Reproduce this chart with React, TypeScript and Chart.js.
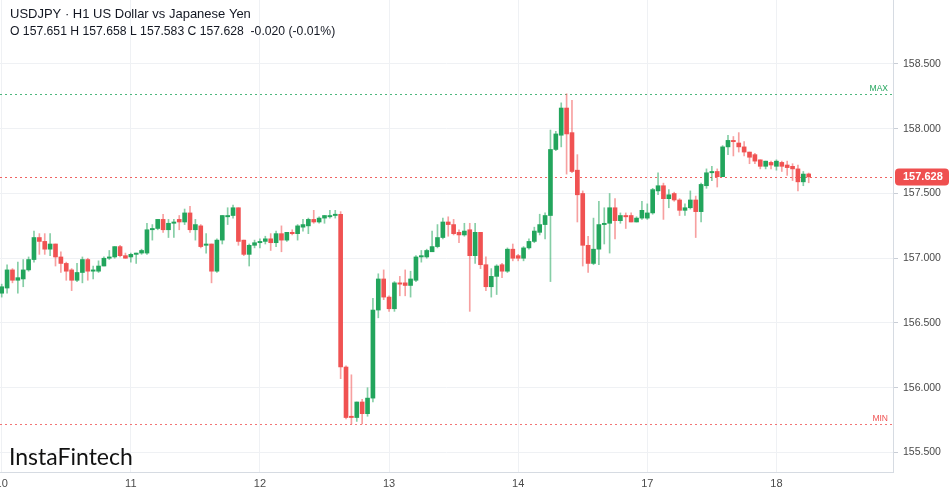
import React, { useEffect, useRef } from 'react';
import { Chart, registerables } from 'chart.js';
Chart.register(...registerables);

const opens = [
  156.73, 156.77, 156.91, 156.83, 156.84, 156.91, 156.99, 157.16, 157.13, 157.07,
  157.11, 157.01, 156.96, 156.91, 156.83, 156.89, 156.99, 156.90, 156.90, 156.94,
  157.00, 157.01, 157.09, 157.02, 157.01, 157.03, 157.04, 157.04, 157.22, 157.23,
  157.30, 157.22, 157.27, 157.30, 157.28, 157.35, 157.22, 157.25, 157.10, 157.11,
  156.90, 157.14, 157.32, 157.33, 157.39, 157.14, 157.03, 157.10, 157.12, 157.13,
  157.15, 157.12, 157.19, 157.14, 157.20, 157.19, 157.24, 157.25, 157.30, 157.28,
  157.31, 157.32, 157.33, 157.34, 156.16, 155.78, 155.77, 155.89, 155.80, 155.92,
  156.60, 156.84, 156.70, 156.61, 156.81, 156.81, 156.79, 156.83, 157.01, 157.01,
  157.05, 157.09, 157.16, 157.28, 157.26, 157.20, 157.18, 157.22, 157.02, 157.20,
  156.95, 156.78, 156.86, 156.95, 156.90, 157.07, 157.02, 157.00, 157.08, 157.13,
  157.20, 157.26, 157.33, 157.84, 157.95, 158.16, 157.97, 157.68, 157.50, 157.10,
  156.96, 157.07, 157.26, 157.27, 157.39, 157.29, 157.33, 157.33, 157.28, 157.31,
  157.31, 157.35, 157.52, 157.56, 157.46, 157.50, 157.45, 157.37, 157.39, 157.45,
  157.36, 157.56, 157.66, 157.67, 157.63, 157.86, 157.91, 157.89, 157.86, 157.82,
  157.80, 157.76, 157.71, 157.74, 157.71, 157.74, 157.72, 157.71, 157.69, 157.59,
  157.651,
];
const highs = [
  156.80, 156.95, 156.92, 156.97, 156.99, 157.01, 157.21, 157.19, 157.19, 157.19,
  157.11, 157.05, 156.97, 156.92, 156.96, 157.01, 157.00, 156.94, 156.98, 157.01,
  157.06, 157.09, 157.10, 157.04, 157.04, 157.04, 157.07, 157.27, 157.26, 157.30,
  157.34, 157.30, 157.30, 157.33, 157.38, 157.40, 157.30, 157.26, 157.19, 157.11,
  157.15, 157.33, 157.39, 157.41, 157.39, 157.14, 157.11, 157.14, 157.15, 157.17,
  157.19, 157.21, 157.25, 157.20, 157.22, 157.26, 157.30, 157.31, 157.37, 157.32,
  157.33, 157.37, 157.37, 157.36, 156.17, 156.10, 155.89, 155.91, 156.00, 156.69,
  156.88, 156.91, 156.71, 156.82, 156.86, 156.91, 156.90, 157.02, 157.06, 157.07,
  157.21, 157.26, 157.31, 157.32, 157.30, 157.22, 157.27, 157.27, 157.27, 157.20,
  157.01, 156.92, 156.95, 156.96, 157.08, 157.11, 157.03, 157.09, 157.15, 157.24,
  157.34, 157.35, 157.99, 157.98, 158.20, 158.27, 158.22, 157.80, 157.52, 157.17,
  157.31, 157.44, 157.39, 157.50, 157.46, 157.35, 157.35, 157.35, 157.32, 157.44,
  157.42, 157.54, 157.66, 157.58, 157.53, 157.51, 157.46, 157.42, 157.52, 157.48,
  157.58, 157.69, 157.71, 157.69, 157.87, 157.95, 157.94, 157.97, 157.90, 157.82,
  157.81, 157.76, 157.75, 157.75, 157.76, 157.75, 157.75, 157.73, 157.72, 157.67,
  157.658,
];
const lows = [
  156.70, 156.73, 156.81, 156.73, 156.78, 156.90, 156.97, 157.03, 157.03, 157.02,
  156.94, 156.89, 156.83, 156.75, 156.82, 156.81, 156.83, 156.84, 156.89, 156.94,
  156.99, 157.00, 157.01, 157.00, 156.97, 156.96, 157.03, 157.03, 157.14, 157.22,
  157.20, 157.16, 157.16, 157.22, 157.26, 157.20, 157.14, 157.08, 157.04, 156.81,
  156.89, 157.11, 157.26, 157.31, 157.10, 157.02, 156.94, 157.08, 157.08, 157.11,
  157.06, 157.09, 157.05, 157.13, 157.18, 157.14, 157.21, 157.19, 157.27, 157.27,
  157.27, 157.31, 157.31, 156.07, 155.76, 155.72, 155.74, 155.72, 155.78, 155.89,
  156.54, 156.68, 156.59, 156.59, 156.71, 156.71, 156.70, 156.82, 156.97, 157.00,
  157.05, 157.08, 157.15, 157.17, 157.18, 157.12, 157.17, 156.59, 156.96, 156.92,
  156.75, 156.70, 156.72, 156.85, 156.89, 156.98, 156.98, 156.98, 157.07, 157.12,
  157.18, 157.15, 156.82, 157.83, 157.86, 157.65, 157.66, 157.28, 156.94, 156.89,
  156.95, 156.95, 157.11, 157.04, 157.15, 157.27, 157.23, 157.28, 157.28, 157.30,
  157.30, 157.34, 157.49, 157.30, 157.39, 157.44, 157.33, 157.33, 157.38, 157.16,
  157.28, 157.54, 157.60, 157.55, 157.63, 157.80, 157.79, 157.82, 157.79, 157.73,
  157.73, 157.69, 157.69, 157.69, 157.68, 157.67, 157.64, 157.60, 157.52, 157.56,
  157.583,
];
const closes = [
  156.78, 156.91, 156.83, 156.85, 156.91, 156.99, 157.16, 157.13, 157.07, 157.11,
  157.01, 156.96, 156.90, 156.83, 156.89, 156.99, 156.90, 156.91, 156.94, 157.00,
  157.01, 157.09, 157.02, 157.00, 157.03, 157.04, 157.06, 157.22, 157.23, 157.30,
  157.22, 157.27, 157.28, 157.28, 157.35, 157.22, 157.26, 157.09, 157.11, 156.90,
  157.14, 157.33, 157.33, 157.39, 157.13, 157.03, 157.10, 157.12, 157.13, 157.15,
  157.12, 157.19, 157.14, 157.20, 157.19, 157.25, 157.26, 157.30, 157.28, 157.31,
  157.33, 157.33, 157.34, 156.16, 155.77, 155.77, 155.89, 155.80, 155.92, 156.60,
  156.84, 156.70, 156.61, 156.81, 156.80, 156.79, 156.84, 157.01, 157.02, 157.06,
  157.09, 157.16, 157.28, 157.26, 157.19, 157.18, 157.21, 157.02, 157.20, 156.95,
  156.78, 156.86, 156.94, 156.90, 157.07, 157.00, 157.00, 157.08, 157.13, 157.21,
  157.26, 157.33, 157.84, 157.96, 158.16, 157.96, 157.67, 157.49, 157.10, 156.96,
  157.07, 157.26, 157.27, 157.39, 157.29, 157.33, 157.32, 157.28, 157.31, 157.37,
  157.35, 157.53, 157.56, 157.46, 157.49, 157.45, 157.37, 157.39, 157.45, 157.36,
  157.57, 157.66, 157.67, 157.63, 157.86, 157.91, 157.90, 157.86, 157.82, 157.78,
  157.75, 157.71, 157.75, 157.72, 157.75, 157.71, 157.70, 157.69, 157.59, 157.65,
  157.628,
];

const dayTickHours = [0, 24, 48, 72, 96, 120, 144];
const dayLabels = ['10', '11', '12', '13', '14', '17', '18'];
const priceTicks = [155.5, 156, 156.5, 157, 157.5, 158, 158.5];
const titleText = 'USDJPY · H1 US Dollar vs Japanese Yen';
const ohlcText = 'O 157.651 H 157.658 L 157.583 C 157.628  -0.020 (-0.01%)';
const lastPrice = 157.628;
const brandText = 'InstaFintech';

const GREEN = '#22a55c';
const RED = '#f05252';
const GREEN_WICK = 'rgba(34,165,92,0.55)';
const RED_WICK = 'rgba(240,82,82,0.55)';
const OFF = 20;
const FONT = '"Liberation Sans", Arial, sans-serif';

export default function App() {
  const ref = useRef<HTMLCanvasElement | null>(null);

  useEffect(() => {
    const canvas = ref.current;
    if (!canvas) return;
    const up = closes.map((c, i) => c >= opens[i]);
    const maxHigh = Math.max(...highs);
    const minLow = Math.min(...lows);

    const overlay = {
      id: 'overlay',
      beforeDatasetsDraw(chart: any) {
        const { ctx, chartArea, scales } = chart;
        const y = scales.y;
        ctx.save();
        ctx.lineWidth = 1;
        ctx.setLineDash([2, 3]);
        const hline = (v: number, color: string) => {
          const py = Math.round(y.getPixelForValue(v)) + 0.5;
          ctx.strokeStyle = color;
          ctx.beginPath();
          ctx.moveTo(chartArea.left, py);
          ctx.lineTo(chartArea.right, py);
          ctx.stroke();
        };
        hline(maxHigh, 'rgba(34,165,92,0.8)');
        hline(minLow, 'rgba(240,82,82,0.8)');
        hline(lastPrice, 'rgba(240,82,82,0.9)');
        ctx.restore();
      },
      afterDraw(chart: any) {
        const { ctx, chartArea, scales } = chart;
        const y = scales.y;
        ctx.save();
        // MAX / MIN labels
        ctx.font = `8.5px ${FONT}`;
        ctx.textAlign = 'right';
        ctx.textBaseline = 'bottom';
        ctx.fillStyle = GREEN;
        ctx.fillText('MAX', chartArea.right - 5, y.getPixelForValue(maxHigh) - 1);
        ctx.fillStyle = RED;
        ctx.fillText('MIN', chartArea.right - 5, y.getPixelForValue(minLow) - 1);
        // last price tag
        const py = y.getPixelForValue(lastPrice);
        const x0 = chartArea.right + 2;
        const w = 54, h = 17, r = 4;
        ctx.fillStyle = '#ef4f4f';
        ctx.beginPath();
        ctx.roundRect(x0, py - h / 2, w, h, r);
        ctx.fill();
        ctx.fillStyle = '#ffffff';
        ctx.font = `bold 11px ${FONT}`;
        ctx.textAlign = 'left';
        ctx.textBaseline = 'middle';
        ctx.fillText(lastPrice.toFixed(3), chartArea.right + 10, py + 0.5);
        // header
        ctx.fillStyle = '#131722';
        ctx.textAlign = 'left';
        ctx.textBaseline = 'middle';
        ctx.font = `13px ${FONT}`;
        ctx.fillText(titleText, OFF + 10, OFF + 14);
        ctx.font = `12.2px ${FONT}`;
        ctx.fillText(ohlcText, OFF + 10, OFF + 32);
        // brand
        ctx.fillStyle = '#111111';
        ctx.font = `23px Lato, "Noto Sans", sans-serif`;
        ctx.textBaseline = 'alphabetic';
        ctx.fillText(brandText, OFF + 9, OFF + 465);
        ctx.restore();
      },
    };

    const chart = new Chart(canvas, {
      type: 'bar',
      data: {
        datasets: [
          {
            label: 'wick',
            data: highs.map((hv, i) => ({ x: i, y: [lows[i], hv] })) as any,
            backgroundColor: up.map((u) => (u ? GREEN_WICK : RED_WICK)),
            barThickness: 1,
            grouped: false,
            order: 2,
            borderWidth: 0,
          } as any,
          {
            label: 'body',
            data: opens.map((o, i) => ({ x: i, y: [Math.min(o, closes[i]), Math.max(o, closes[i])] })) as any,
            backgroundColor: up.map((u) => (u ? GREEN : RED)),
            barThickness: 4,
            minBarLength: 1,
            grouped: false,
            order: 1,
            borderWidth: 0,
          } as any,
        ],
      },
      options: {
        animation: false,
        responsive: false,
        maintainAspectRatio: false,
        layout: { padding: { left: OFF, top: OFF, right: 0, bottom: 0 } },
        plugins: { legend: { display: false }, tooltip: { enabled: false } },
        scales: {
          x: {
            type: 'linear',
            min: -0.316,
            max: 165.67,
            offset: false,
            afterBuildTicks: (s: any) => {
              s.ticks = dayTickHours.map((v) => ({ value: v }));
            },
            afterFit: (s: any) => {
              s.height = 22;
            },
            ticks: {
              autoSkip: false,
              maxRotation: 0,
              padding: 5,
              color: '#4a4a4a',
              font: { family: FONT, size: 11 },
              callback: (v: any) => {
                const k = dayTickHours.indexOf(Number(v));
                return k >= 0 ? dayLabels[k] : '';
              },
            },
            grid: { color: '#eff1f4', drawTicks: false, offset: false },
            border: { color: '#d6dbe2' },
          },
          y: {
            position: 'right',
            min: 155.3494,
            max: 158.9942,
            afterBuildTicks: (s: any) => {
              s.ticks = priceTicks.map((v) => ({ value: v }));
            },
            afterFit: (s: any) => {
              s.width = 56;
            },
            ticks: {
              padding: 5,
              color: '#4a4a4a',
              font: { family: FONT, size: 10.5 },
              callback: (v: any) => Number(v).toFixed(3),
            },
            grid: { color: '#eff1f4', tickLength: 5, tickColor: '#c9ced6' },
            border: { color: '#d6dbe2' },
          },
        },
      } as any,
      plugins: [overlay],
    });
    return () => chart.destroy();
  }, []);

  return (
    <div style={{ position: 'absolute', left: -OFF, top: -OFF, width: 969, height: 514, background: '#fff' }}>
      <canvas ref={ref} width={969} height={514} style={{ display: 'block', width: 969, height: 514 }} />
    </div>
  );
}
